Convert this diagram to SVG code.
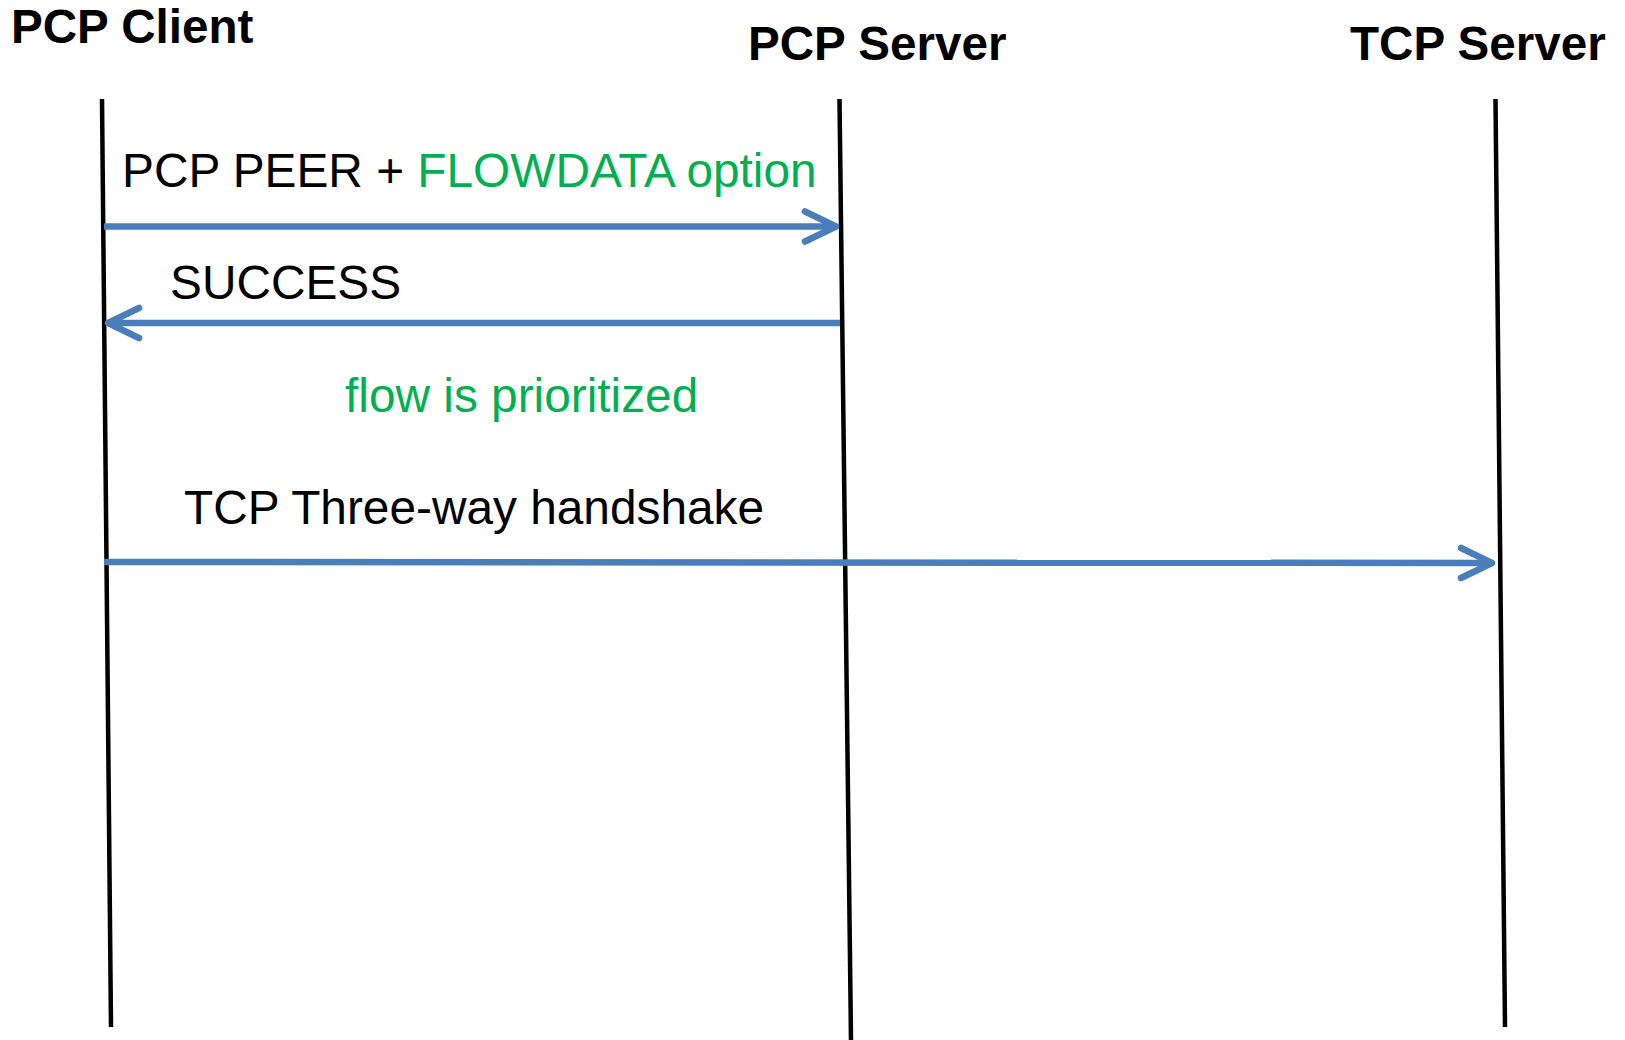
<svg xmlns="http://www.w3.org/2000/svg" width="1625" height="1040" viewBox="0 0 1625 1040">
  <style>
    .title { font-family: "Liberation Sans", Arial, sans-serif; font-size: 47.6px; font-weight: bold; fill: #000; }
    .label { font-family: "Liberation Sans", Arial, sans-serif; font-size: 47.8px; fill: #000; }
    .green { fill: #00B050; }
    .lifeline { stroke: #000; stroke-width: 4.5; fill: none; }
    .msg { stroke: #4A7EBB; stroke-width: 6.5; fill: none; marker-end: url(#head); }
  </style>
  <defs>
    <!-- open chevron arrowhead shared by all messages -->
    <marker id="head" markerUnits="userSpaceOnUse" orient="auto" viewBox="-40 -22 46 44" markerWidth="46" markerHeight="44" refX="0" refY="0" overflow="visible">
      <path d="M-31,-15 L0,0 L-31,15" fill="none" stroke="#4A7EBB" stroke-width="6.5" stroke-linecap="round" stroke-linejoin="round"/>
    </marker>
  </defs>
  <rect width="1625" height="1040" fill="#fff"/>

  <g id="pcp-client">
    <text class="title" x="11" y="43">PCP Client</text>
    <line class="lifeline" x1="102" y1="99" x2="111" y2="1027"/>
  </g>
  <g id="pcp-server">
    <text class="title" x="748" y="60">PCP Server</text>
    <line class="lifeline" x1="839.5" y1="99" x2="851" y2="1040"/>
  </g>
  <g id="tcp-server">
    <text class="title" x="1350" y="60">TCP Server</text>
    <line class="lifeline" x1="1495.5" y1="99" x2="1505" y2="1027"/>
  </g>

  <g id="labels">
    <text class="label" x="122" y="187">PCP PEER + <tspan class="green">FLOWDATA option</tspan></text>
    <text class="label" x="170" y="299">SUCCESS</text>
    <text class="label green" x="345" y="412">flow is prioritized</text>
    <text class="label" x="184" y="524">TCP Three-way handshake</text>
  </g>

  <g id="connectors">
    <line class="msg" x1="104" y1="226.5" x2="836" y2="226.5"/>
    <line class="msg" x1="840" y1="323" x2="108" y2="323"/>
    <line class="msg" x1="104" y1="562" x2="1492" y2="563"/>
  </g>
</svg>
